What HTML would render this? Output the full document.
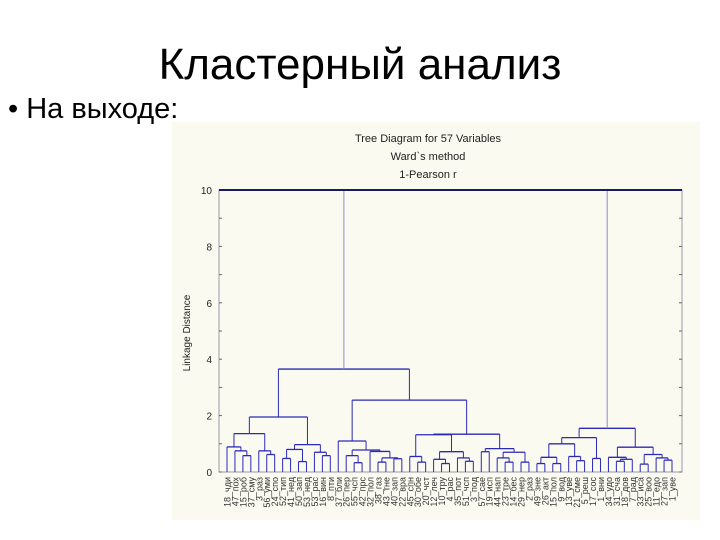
<!DOCTYPE html>
<html><head><meta charset="utf-8"><style>
body{margin:0;background:#fff;}
#slide{position:relative;width:720px;height:540px;background:#fff;overflow:hidden;font-family:"Liberation Sans",sans-serif;}
#title{position:absolute;left:0;width:720px;top:40px;text-align:center;font-size:44px;line-height:50px;color:#000;}
#bullet{position:absolute;left:8px;top:92px;font-size:29px;line-height:34px;color:#000;}
svg{position:absolute;left:0;top:0;}
</style></head><body>
<div id="slide">
<div id="title">Кластерный анализ</div>
<div id="bullet">• На выходе:</div>
<svg id="chart" width="720" height="540"></svg>
</div>
<script>
const leafLabels=["18_чди","47_пох","15_роб","37_сму","3_раз","56_уми","24_спо","52_тип","41_нед","50_зап","53_нед","53_рас","16_вин","8_пти",
"37_бли","26_пер","55_чсп","42_прс","32_пол","38_газ","43_тне","40_зап","22_вра",
"45_спн","30_обе","20_чст","12_леч","10_тру","4_рас","35_пот","51_чсп","3_под","57_сае","19_исп","44_нап","23_тре","14_бес","29_нер","2_раз",
"49_зне","26_акт","15_пол","9_вод","13_уве","21_сме","5_реш","17_сос","1_вни","34_удо","31_сча","18_дов","7_рад","33_иса","25_воо","11_едо","27_зап","1_уве"];
const mergeA=[2,1,0,5,4,59,7,9,63,12,11,65,62,16,15,19,21,72,18,71,14,24,23,27,26,30,29,81,32,35,34,37,87,85,79,91,77,69,39,41,95,44,43,97,46,100,49,103,48,52,55,54,106,105,102,94];
const mergeB=[3,57,58,6,60,61,8,10,64,13,66,67,68,17,70,20,22,73,74,75,76,25,78,28,80,31,82,83,33,36,86,38,88,89,84,90,92,93,40,42,96,45,98,99,47,101,50,51,104,53,56,107,108,109,110,111];
const mergeH=[0.58,0.75,0.89,0.62,0.75,1.36,0.48,0.37,0.8,0.58,0.7,0.97,1.95,0.33,0.58,0.35,0.47,0.5,0.73,0.78,1.1,0.35,0.55,0.3,0.45,0.38,0.5,0.72,0.72,0.35,0.5,0.35,0.7,0.83,1.32,1.34,2.55,3.65,0.3,0.3,0.52,0.4,0.55,1.0,0.48,1.22,0.38,0.45,0.52,0.28,0.42,0.5,0.62,0.88,1.55,10];
const yTicks=[0,2,4,6,8,10];
const titleLines=["Tree Diagram for 57  Variables","Ward`s method","1-Pearson r"];

const svg=document.getElementById('chart');const NS='http://www.w3.org/2000/svg';
const X0=227,X1=672,Y0=472,Y1=190,L=219,R=682;
const xL=i=>X0+i*(X1-X0)/(leafLabels.length-1);
const yS=h=>Y0-(h/10)*(Y0-Y1);
function mk(t,a,p){const e=document.createElementNS(NS,t);for(const k in a)e.setAttribute(k,a[k]);(p||svg).appendChild(e);return e;}
const bg=mk('rect',{x:172,y:122,width:528,height:398,fill:'#fbfaf1'});


const frame=mk('rect',{x:L,y:Y1,width:R-L,height:Y0-Y1,fill:'none',stroke:'#9a9aa8','stroke-width':1});


titleLines.forEach((s,i)=>{const t=mk('text',{x:428,y:142+i*18,'text-anchor':'middle','font-size':11,fill:'#222','font-family':'Liberation Sans, sans-serif'});t.textContent=s;

});
yTicks.forEach(v=>{const t=mk('text',{x:212,y:yS(v)+4,'text-anchor':'end','font-size':10,fill:'#222','font-family':'Liberation Sans, sans-serif'});t.textContent=v;

});
for(let v=0;v<=10;v++){mk('line',{x1:L,x2:L+3,y1:yS(v),y2:yS(v),stroke:'#666'});mk('line',{x1:R,x2:R-3,y1:yS(v),y2:yS(v),stroke:'#666'});}
const yt=mk('text',{x:0,y:0,transform:'translate(190,333) rotate(-90)','text-anchor':'middle','font-size':10,fill:'#222','font-family':'Liberation Sans, sans-serif'});yt.textContent='Linkage Distance';


const n=leafLabels.length;const px=[],ph=[];
for(let i=0;i<n;i++){px[i]=xL(i);ph[i]=0;}
for(let k=0;k<mergeA.length;k++){
 const a=mergeA[k],b=mergeB[k],h=mergeH[k],id=n+k;
 px[id]=(px[a]+px[b])/2;ph[id]=h;
 const root=k===mergeA.length-1;
 const vc=root?'#8c8cc8':'#2a2ab8';
 const g=mk('g',{});
 
 
 mk('line',{x1:px[a],x2:px[a],y1:yS(ph[a]),y2:yS(h),stroke:vc,'stroke-width':1},g);
 mk('line',{x1:px[b],x2:px[b],y1:yS(ph[b]),y2:yS(h),stroke:vc,'stroke-width':1},g);
 mk('line',{x1:px[a],x2:px[b],y1:yS(h),y2:yS(h),stroke:root?'#1a1a90':'#2a2ab8','stroke-width':root?2:1.3},g);
}
mk('line',{x1:L,x2:R,y1:Y1,y2:Y1,stroke:'#1a1a60','stroke-width':2});
leafLabels.forEach((s,i)=>{const t=mk('text',{x:0,y:0,transform:`translate(${xL(i)+3.5},477) rotate(-90)`,'text-anchor':'end','font-size':9,fill:'#333','font-family':'Liberation Sans, sans-serif'});t.textContent=s;

});
</script>
</body></html>
